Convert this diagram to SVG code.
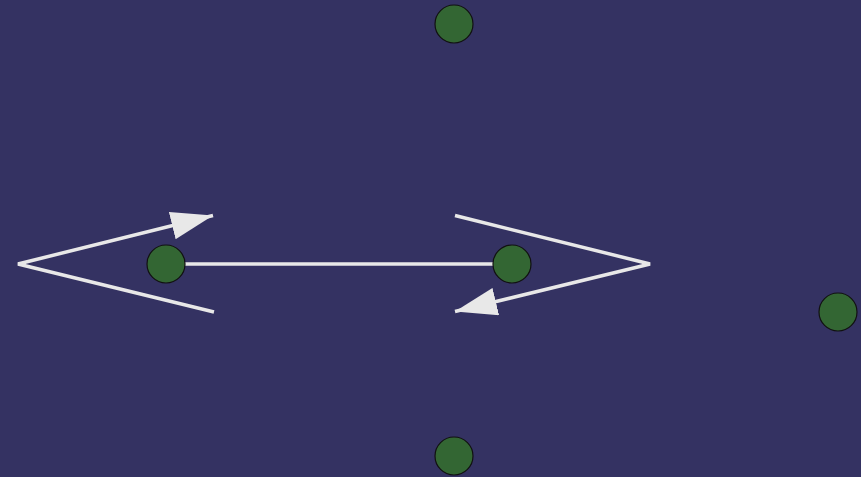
<svg xmlns="http://www.w3.org/2000/svg" width="861" height="477" viewBox="0 0 861 477">
<style>
.edge{fill:none;stroke:#e8e8e8;stroke-width:3.5;stroke-linejoin:miter}
.node{fill:#336633;stroke:#111111;stroke-width:1.2}
</style>
<defs>
<marker id="arr" markerUnits="userSpaceOnUse" markerWidth="44" markerHeight="28" refX="42" refY="14" orient="auto" viewBox="0 0 44 28">
<path d="M0,0 L42,14 L0,28 z" fill="#e8e8e8"/>
</marker>
</defs>
<rect width="861" height="477" fill="#343262"/>
<g id="connectors">
<path class="edge" d="M214,312 L18,264 L213,215.5" marker-end="url(#arr)"/>
<path class="edge" d="M455,215.5 L650,264 L455,311.5" marker-end="url(#arr)"/>
<path class="edge" d="M166,264 L512,264"/>
</g>
<g id="n1"><circle class="node" cx="454" cy="24" r="19"/></g>
<g id="n2"><circle class="node" cx="166" cy="264" r="19"/></g>
<g id="n3"><circle class="node" cx="512" cy="264" r="19"/></g>
<g id="n4"><circle class="node" cx="838" cy="312" r="19"/></g>
<g id="n5"><circle class="node" cx="454" cy="456" r="19"/></g>
</svg>
